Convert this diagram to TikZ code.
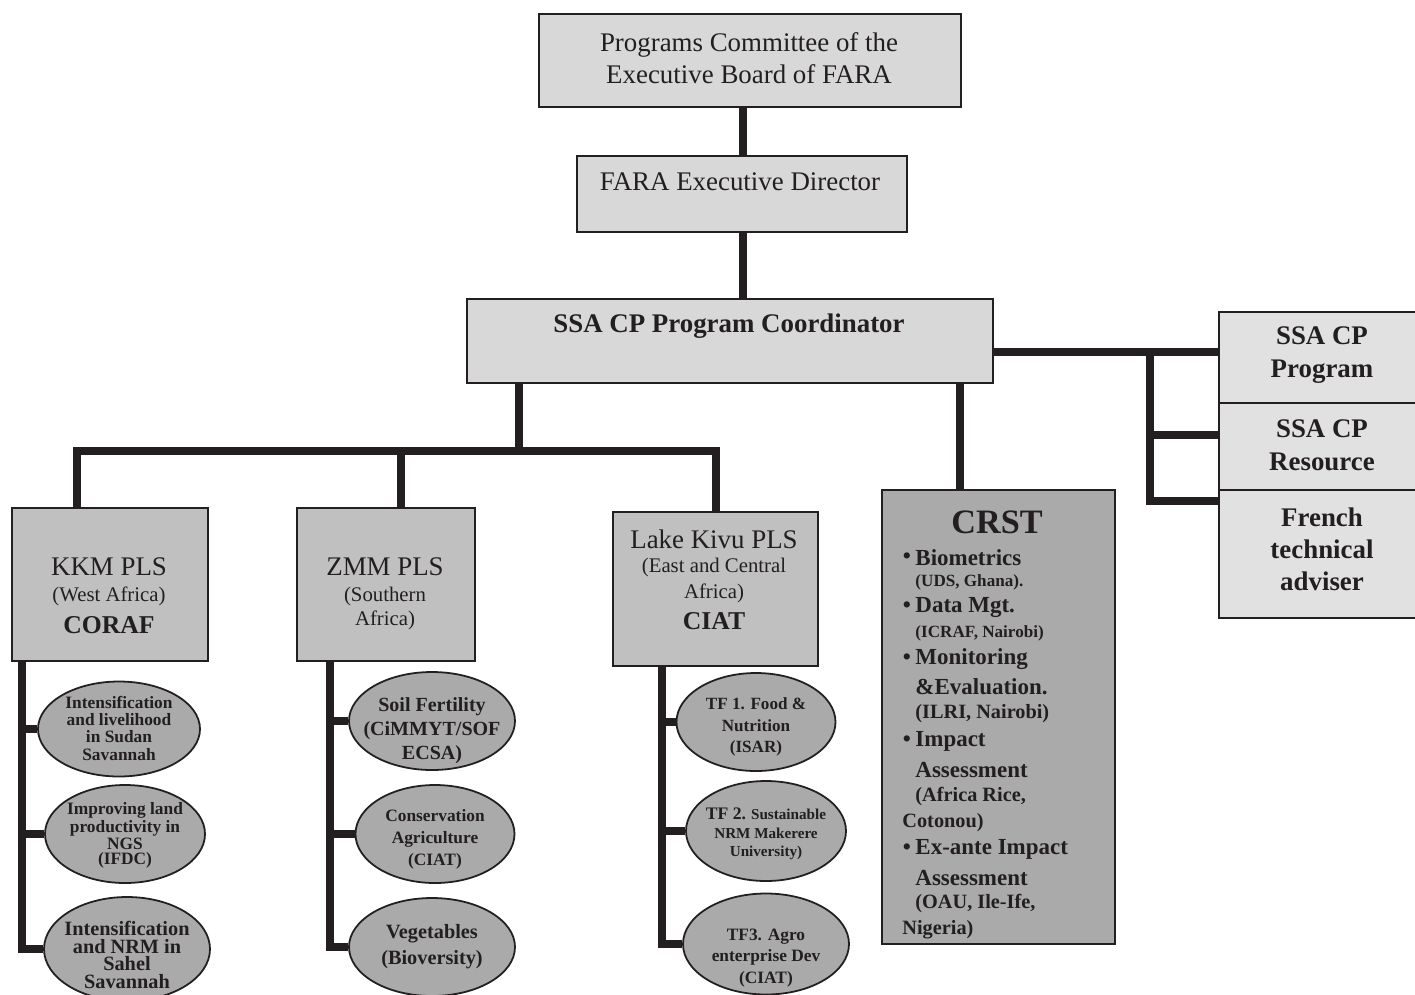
\documentclass[tikz,border=0pt]{standalone}
\usepackage{fontspec}
\setmainfont{Liberation Serif}[Scale=1.1]
\usepackage{tikz}
\usetikzlibrary{shapes.geometric,calc}
\definecolor{orgInk}{RGB}{35,31,32}
\definecolor{orgPale}{RGB}{225,225,225}
\definecolor{orgLight}{RGB}{216,216,216}
\definecolor{orgMid}{RGB}{192,192,192}
\definecolor{orgDark}{RGB}{170,170,170}
\newcommand{\pxu}{0.45pt}
\newcommand{\fs}[2]{\fontsize{#1}{#2}\selectfont}
\tikzset{
  wire/.style={draw=orgInk,line width=3.2pt},
  orgbox/.style 2 args={rectangle,draw=orgInk,line width=0.8pt,anchor=north west,
    inner sep=0pt,minimum width=#1*\pxu,minimum height=#2*\pxu},
  leaf/.style={ellipse,draw=orgInk,line width=0.8pt,fill=orgDark,inner sep=0pt},
  boxtext/.style={align=center,inner sep=0pt},
  crstdot/.style={inner sep=0pt,font=\fs{9.4}{11}\bfseries},
  crstitem/.style={anchor=west,inner sep=0pt,font=\fs{9.4}{11}\bfseries},
  crstnote/.style={anchor=west,inner sep=0pt,font=\fs{8.3}{10}\bfseries},
  crstsmall/.style={anchor=west,inner sep=0pt,font=\fs{7}{8.5}\bfseries}
}
% ellipse node: name, centre, width, height, text position, size, leading, text
\newcommand{\leafnode}[8]{%
  \node[leaf,minimum width=#3*\pxu,minimum height=#4*\pxu] (#1) at (#2) {};
  \node[boxtext,font=\fs{#6}{#7}\bfseries] at (#5) {#8};
}

\begin{document}
\begin{tikzpicture}[x=\pxu,y=-\pxu,every node/.style={text=orgInk}]
  \useasboundingbox (0,0) rectangle (1415,994);
  % top of the chart
  \node[orgbox={422}{93},fill=orgLight] (board) at (538,13) {};
  \node[boxtext,font=\fs{11}{14.4}] at (749,58) {Programs Committee of the\\Executive Board of FARA};
  \node[orgbox={330}{76},fill=orgLight] (fara) at (576,155) {};
  \node[boxtext,font=\fs{11}{14.4}] at (740,182) {FARA Executive Director};
  \node[orgbox={526}{84},fill=orgLight] (coord) at (466,298) {};
  \node[boxtext,font=\fs{11}{14.4}\bfseries] at (729,326) {SSA CP Program Coordinator};
  % right column
  \node[orgbox={200}{91},fill=orgPale] (rprog) at (1218,311) {};
  \node[boxtext,font=\fs{11}{14.9}\bfseries] at (1322,355) {SSA CP\\Program};
  \node[orgbox={200}{87},fill=orgPale] (rres) at (1218,402) {};
  \node[boxtext,font=\fs{11}{14.9}\bfseries] at (1322,445) {SSA CP\\Resource};
  \node[orgbox={200}{128},fill=orgPale] (rfr) at (1218,489) {};
  \node[boxtext,font=\fs{11}{14.4}\bfseries] at (1322,549) {French\\technical\\adviser};
  % PLS boxes
  \node[orgbox={196}{153},fill=orgMid] (kkm) at (11,507) {};
  \node[boxtext,font=\fs{11}{13}] at (109,567) {KKM PLS};
  \node[boxtext,font=\fs{8.5}{10}] at (109,596) {(West Africa)};
  \node[boxtext,font=\fs{10.5}{12}\bfseries] at (109,625) {CORAF};
  \node[orgbox={178}{153},fill=orgMid] (zmm) at (296,507) {};
  \node[boxtext,font=\fs{11}{13}] at (385,567) {ZMM PLS};
  \node[boxtext,font=\fs{8.5}{10.8}] at (385,608) {(Southern\\Africa)};
  \node[orgbox={205}{154},fill=orgMid] (kivu) at (612,511) {};
  \node[boxtext,font=\fs{11}{13}] at (714,539) {Lake Kivu PLS};
  \node[boxtext,font=\fs{8.5}{11.7}] at (714,580) {(East and Central\\Africa)};
  \node[boxtext,font=\fs{10.5}{12}\bfseries] at (714,621) {CIAT};
  % CRST
  \node[orgbox={233}{454},fill=orgDark] (crst) at (881,489) {};
  \node[boxtext,font=\fs{14}{16}\bfseries] at (997,522) {CRST};
  \foreach \yb in {558,607,659,741,849}
    \node[crstdot] at (907,\yb) {\textbullet};
  \node[crstitem] at (915,558) {Biometrics};
  \node[crstsmall] at (915,582) {(UDS, Ghana).};
  \node[crstitem] at (915,607) {Data Mgt.};
  \node[crstsmall] at (915,633) {(ICRAF, Nairobi)};
  \node[crstitem] at (915,659) {Monitoring};
  \node[crstitem] at (915,687) {\&Evaluation.};
  \node[crstnote] at (915,714) {(ILRI, Nairobi)};
  \node[crstitem] at (915,741) {Impact};
  \node[crstitem] at (915,770) {Assessment};
  \node[crstnote] at (915,797) {(Africa Rice,};
  \node[crstnote] at (902,823) {Cotonou)};
  \node[crstitem] at (915,849) {Ex-ante Impact};
  \node[crstitem] at (915,878) {Assessment};
  \node[crstnote] at (915,904) {(OAU, Ile-Ife,};
  \node[crstnote] at (902,930) {Nigeria)};
  % task forces
  \leafnode{k1}{119,729}{162}{95}{119,728}{7.1}{7.8}{Intensification\\and livelihood\\in Sudan\\Savannah}
  \leafnode{k2}{125,834}{160}{98}{125,835}{7.1}{6.6}{Improving land\\productivity in\\NGS\\(IFDC)}
  \leafnode{k3}{127,949}{166}{104}{127,955}{8.3}{7.9}{Intensification\\and NRM in\\Sahel\\Savannah}
  \leafnode{z1}{432,721}{166}{98}{432,731}{8.2}{10.8}{Soil Fertility\\(CiMMYT/SOF\\ECSA)}
  \leafnode{z2}{435,834}{159}{98}{435,839}{7.1}{9.9}{Conservation\\Agriculture\\(CIAT)}
  \leafnode{z3}{432,947}{166}{98}{432,947}{8.3}{11.7}{Vegetables\\(Bioversity)}
  \leafnode{v1}{756,722}{159}{98}{756,727}{7}{9.7}{TF 1. Food \&\\Nutrition\\(ISAR)}
  \leafnode{v2}{766,831}{160}{100}{766,834}{6.2}{8.3}{{\fs{7.2}{8.3}TF 2.} Sustainable\\NRM Makerere\\University)}
  \leafnode{v3}{766,944}{166}{101}{766,958}{7.1}{9.5}{TF3. Agro\\enterprise Dev\\(CIAT)}
  % connectors
  \coordinate (trunk) at (743,0);
  \coordinate (rbus) at (1150,352);
  \coordinate (rb2) at (1150,435);
  \coordinate (rb3) at (1150,501);
  \coordinate (lbus) at (519,451);
  \coordinate (dk) at (77,0);
  \coordinate (dz) at (401,0);
  \coordinate (dv) at (716,0);
  \coordinate (dc) at (960,0);
  \coordinate (sk) at (22,0);
  \coordinate (sz) at (330,0);
  \coordinate (sv) at (662,0);
  \draw[wire] (board.south -| trunk) -- (fara.north -| trunk);
  \draw[wire] (fara.south -| trunk) -- (coord.north -| trunk);
  \draw[wire] (coord.east |- rbus) -- (rprog.west |- rbus);
  \draw[wire] (rbus) -- (rb3) -- (rfr.west |- rb3);
  \draw[wire] (rb2) -- (rres.west |- rb2);
  \draw[wire] (coord.south -| dc) -- (crst.north -| dc);
  \draw[wire] (coord.south -| lbus) -- (lbus);
  \draw[wire] (kkm.north -| dk) -- (dk |- lbus) -- (dv |- lbus) -- (kivu.north -| dv);
  \draw[wire] (dz |- lbus) -- (zmm.north -| dz);
  \draw[wire] (kkm.south -| sk) |- (k3.west);
  \draw[wire] (sk |- k1.west) -- (k1.west);
  \draw[wire] (sk |- k2.west) -- (k2.west);
  \draw[wire] (zmm.south -| sz) |- (z3.west);
  \draw[wire] (sz |- z1.west) -- (z1.west);
  \draw[wire] (sz |- z2.west) -- (z2.west);
  \draw[wire] (kivu.south -| sv) |- (v3.west);
  \draw[wire] (sv |- v1.west) -- (v1.west);
  \draw[wire] (sv |- v2.west) -- (v2.west);
\end{tikzpicture}
\end{document}
